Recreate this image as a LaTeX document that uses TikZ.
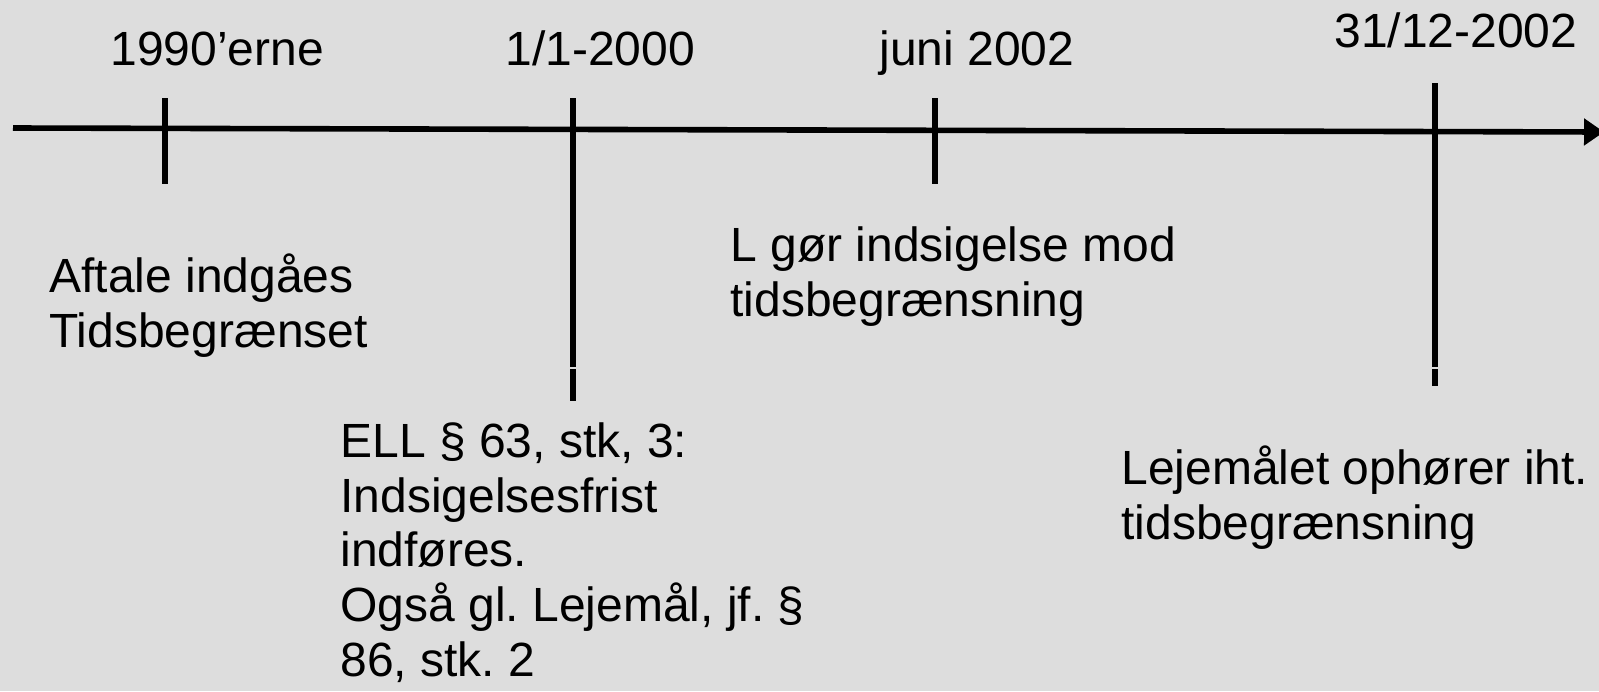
\documentclass[tikz,border=0pt]{standalone}
\usepackage{fontspec}
\setmainfont{Liberation Sans}
\usetikzlibrary{arrows.meta}
\frenchspacing
\definecolor{bg}{HTML}{DDDDDD}
\tikzset{
  lbl/.style={inner sep=0pt, anchor=base west, font=\fontsize{24}{27.3}\selectfont, align=left},
  tick/.style={line width=3pt},
  axis/.style={line width=2.8pt, -{Triangle[length=10pt,width=13pt]}}
}
\begin{document}
\begin{tikzpicture}[x=0.5pt,y=-0.5pt]
\fill[bg] (0,0) rectangle (1599,691);
\useasboundingbox (0,0) rectangle (1599,691);
% axis
\coordinate (a0) at (13,128);
\coordinate (a1) at (1604,132);
\draw[axis] (a0) -- (a1);
% ticks
\coordinate (t1a) at (165,98);  \coordinate (t1b) at (165,184);
\coordinate (t2a) at (573,98);  \coordinate (t2b) at (573,367);
\coordinate (t2c) at (573,369); \coordinate (t2d) at (573,401);
\coordinate (t3a) at (935,98);  \coordinate (t3b) at (935,184);
\coordinate (t4a) at (1435,83); \coordinate (t4b) at (1435,367);
\coordinate (t4c) at (1435,369);\coordinate (t4d) at (1435,386);
\draw[tick] (t1a) -- (t1b);
\draw[tick] (t2a) -- (t2b);
\draw[tick] (t2c) -- (t2d);
\draw[tick] (t3a) -- (t3b);
\draw[tick] (t4a) -- (t4b);
\draw[tick] (t4c) -- (t4d);
% date labels
\node[lbl] (d1) at (110,65) {1990’erne};
\node[lbl] (d2) at (505,65) {1/1-2000};
\node[lbl] (d3) at (879,65) {juni 2002};
\node[lbl] (d4) at (1334,47) {31/12-2002};
% event labels (base anchor = last line)
\node[lbl] (e1) at (49,347) {Aftale indgåes\\Tidsbegrænset};
\node[lbl] (e2) at (730,316) {L gør indsigelse mod\\tidsbegrænsning};
\node[lbl] (e3) at (340,676) {ELL § 63, stk, 3:\\Indsigelsesfrist\\indføres.\\Også gl. Lejemål, jf. §\\86, stk. 2};
\node[lbl] (e4) at (1121,539) {Lejemålet ophører iht.\\tidsbegrænsning};
\end{tikzpicture}
\end{document}
